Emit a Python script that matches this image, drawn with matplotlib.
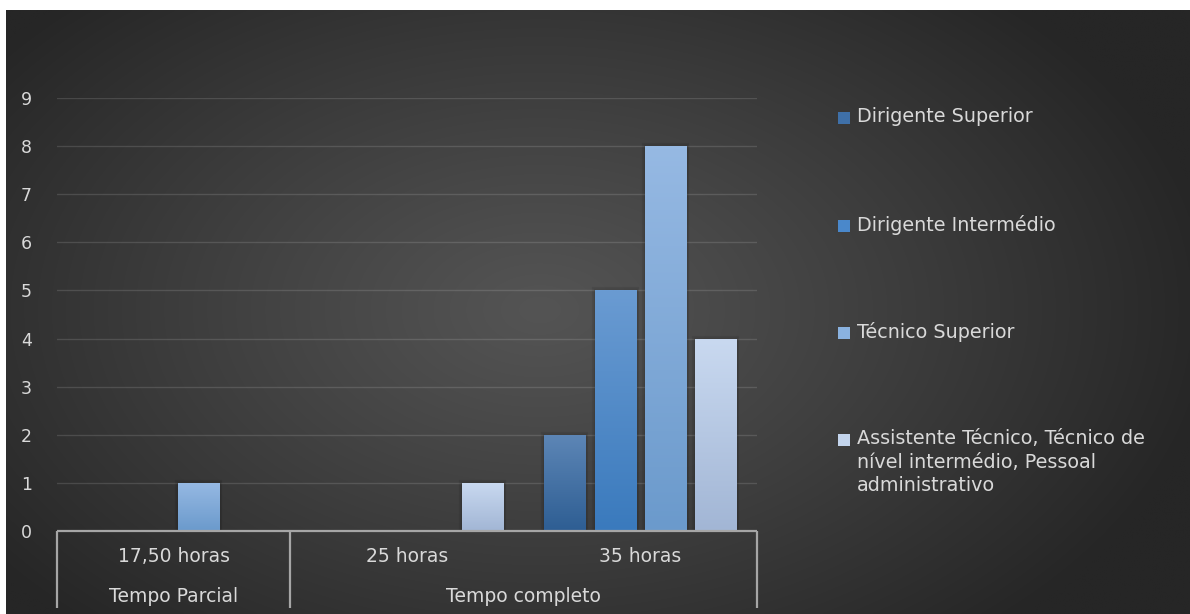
import numpy as np
import matplotlib
matplotlib.use("Agg")
import matplotlib.pyplot as plt
import matplotlib.patheffects as pe
from matplotlib.patches import Rectangle
from matplotlib.colors import LinearSegmentedColormap, to_rgb

# ---- data ----
categories = ["17,50 horas", "25 horas", "35 horas"]
groups = ["Tempo Parcial", "Tempo completo"]
group_members = [[0], [1, 2]]
series = ["Dirigente Superior", "Dirigente Intermédio", "Técnico Superior",
          "Assistente Técnico, Técnico de\nnível intermédio, Pessoal\nadministrativo"]
dirigente_superior = [0, 0, 2]
dirigente_intermedio = [0, 0, 5]
tecnico_superior = [1, 0, 8]
assistente_tecnico = [0, 1, 4]
values = [dirigente_superior, dirigente_intermedio, tecnico_superior, assistente_tecnico]

# (top, bottom) of each bar gradient, plus legend swatch colour
grad = [("#5d86b6", "#2e5e93"), ("#6a9bd2", "#3a7abd"),
        ("#96b9e3", "#6b9acc"), ("#c9d9f0", "#a2b6d5")]
swatch = ["#3f70a8", "#4a88cb", "#8ab2e0", "#c3d4ec"]
TXT = "#d9d9d9"
FONT = "DejaVu Sans"

W, H = 1190, 614
fig = plt.figure(figsize=(W / 100, H / 100), dpi=100, facecolor="white")

# ---- dark radial background (Excel style) ----
bg = fig.add_axes([6 / W, 0, 1 - 6 / W, (H - 10) / H])
yy, xx = np.mgrid[0:300, 0:600]
px = 6 + xx / 599 * (W - 6)
py = 10 + yy / 299 * (H - 10)
r = np.sqrt(((px - 540) / 680) ** 2 + ((py - 310) / 430) ** 2)
shade = (84 - 46 * np.clip(r, 0, 1) ** 1.1) / 255
bg.imshow(np.dstack([shade] * 3), aspect="auto", extent=[0, 1, 0, 1],
          origin="upper", interpolation="bilinear")
bg.set_axis_off()

# ---- main axes ----
x0, x1 = 57, 757
y0, y9 = 531, 98
ax = fig.add_axes([x0 / W, (H - y0) / H, (x1 - x0) / W, (y0 - y9) / H])
ax.patch.set_alpha(0)
for s in ax.spines.values():
    s.set_visible(False)

n = len(series)
step = 0.216
width = 0.176
xs = np.arange(len(categories))
for i, (vals, (top, bot)) in enumerate(zip(values, grad)):
    offs = xs + (i - (n - 1) / 2) * step
    bars = ax.bar(offs, vals, width=width, color=bot, zorder=3,
                  edgecolor=(1, 1, 1, 0.15), linewidth=0.8)
    cmap = LinearSegmentedColormap.from_list("g%d" % i, [to_rgb(bot), to_rgb(top)])
    for b in bars:
        h = b.get_height()
        if h <= 0:
            continue
        # soft drop shadow round the bar
        b.set_path_effects([pe.Stroke(linewidth=4.5, foreground="black", alpha=0.08),
                            pe.Stroke(linewidth=2.5, foreground="black", alpha=0.10),
                            pe.Normal()])
        im = ax.imshow(np.linspace(0, 1, 100).reshape(-1, 1), cmap=cmap,
                       origin="lower", aspect="auto", interpolation="bilinear",
                       extent=[b.get_x(), b.get_x() + b.get_width(), 0, h], zorder=3.5)
        im.set_clip_path(b)

ax.set_xlim(-0.5, len(categories) - 0.5)
ax.set_ylim(0, 9)
ax.set_yticks(range(10))
ax.yaxis.grid(True, color="white", alpha=0.13, lw=1.0)
ax.set_axisbelow(True)
ax.tick_params(axis="y", length=0, pad=18, labelcolor=TXT, labelsize=12.5)
for t in ax.get_yticklabels():
    t.set_fontfamily(FONT)
ax.set_xticks([])

# multi-level category axis
line_kw = dict(color="#a6a6a6", lw=1.6, clip_on=False, zorder=4,
               solid_capstyle="butt")
bottom = -(608 - y0) / (y0 - y9)
ax.plot([-0.5, len(categories) - 0.5], [0, 0], transform=ax.get_xaxis_transform(), **line_kw)
bounds = [-0.5]
for members in group_members:
    bounds.append(members[-1] + 0.5)
for b in bounds:
    ax.plot([b, b], [0, bottom], transform=ax.get_xaxis_transform(), **line_kw)

lvl1 = -(557 - y0) / (y0 - y9)
lvl2 = -(596 - y0) / (y0 - y9)
for x, c in zip(xs, categories):
    ax.text(x, lvl1, c, transform=ax.get_xaxis_transform(), ha="center", va="center",
            color=TXT, fontsize=13.5, family=FONT)
for g, members in zip(groups, group_members):
    ax.text(np.mean([members[0], members[-1]]), lvl2, g,
            transform=ax.get_xaxis_transform(), ha="center", va="center",
            color=TXT, fontsize=13.5, family=FONT)

# ---- legend (Excel-like, tall spacing) ----
leg_y = [118, 226, 333, 440]
for label, col, y in zip(series, swatch, leg_y):
    fig.patches.append(Rectangle((838 / W, (H - y - 6) / H), 12 / W, 12 / H,
                                 transform=fig.transFigure, facecolor=col,
                                 edgecolor="none"))
    fig.text(857 / W, (H - y + 11) / H, label, ha="left", va="top", color=TXT,
             fontsize=13.8, family=FONT, linespacing=1.3)

fig.savefig("out.png", dpi=100, facecolor=fig.get_facecolor())
